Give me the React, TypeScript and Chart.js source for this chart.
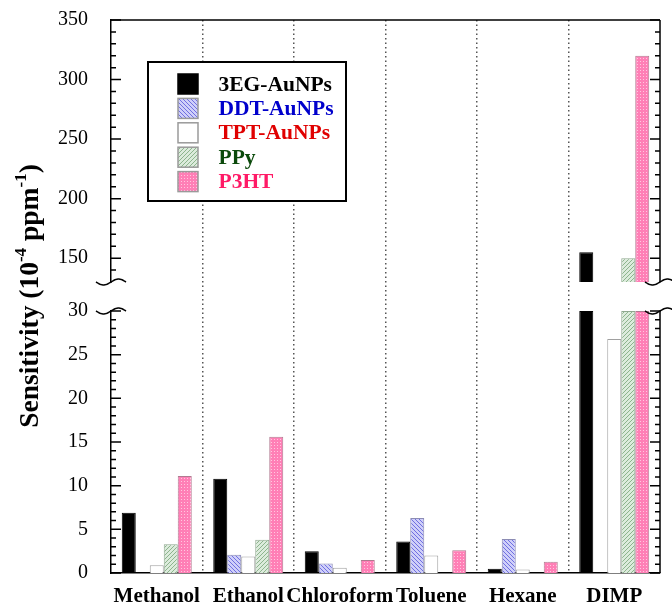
import React, { useEffect, useRef } from 'react';
import { Chart, registerables } from 'chart.js';

Chart.register(...registerables);

const categories = ['Methanol', 'Ethanol', 'Chloroform', 'Toluene', 'Hexane', 'DIMP'];
const seriesLabels = ['3EG-AuNPs', 'DDT-AuNPs', 'TPT-AuNPs', 'PPy', 'P3HT'];
const eg3Values = [6.9, 10.8, 2.5, 3.6, 0.5, 155];
const ddtValues = [null, 2.1, 1.1, 6.3, 3.9, null];
const tptValues = [0.9, 1.9, 0.6, 2.0, 0.4, 26.8];
const ppyValues = [3.3, 3.8, null, null, null, 150];
const p3htValues = [11.1, 15.6, 1.5, 2.6, 1.3, 320];

const lowerRange = [0, 30];
const upperRange = [130, 350];
const lowerTickLabels = [0, 5, 10, 15, 20, 25, 30];
const upperTickLabels = [150, 200, 250, 300, 350];
const legendTextColors = ['#000000', '#0000cc', '#e00000', '#0b4a0b', '#ff1a66'];
const barBorderColors = ['#000000', '#8c8cb4', '#a0a0a0', '#90a890', '#b07a90'];
const titleParts = [
  { text: 'Sensitivity (10', sup: false },
  { text: '-4', sup: true },
  { text: ' ppm', sup: false },
  { text: '-1', sup: true },
  { text: ')', sup: false },
];

const serif = "'Liberation Serif', 'Times New Roman', serif";

function makePattern(kind: string): CanvasPattern | string {
  const c = document.createElement('canvas');
  const size = kind === 'pink' ? 3 : 4;
  c.width = size;
  c.height = size;
  const g = c.getContext('2d')!;
  if (kind === 'blue') {
    g.fillStyle = '#cfcff9';
    g.fillRect(0, 0, size, size);
    g.fillStyle = '#7070e0';
    for (let i = 0; i < size; i++) g.fillRect(i, i, 1, 1);
  } else if (kind === 'green') {
    g.fillStyle = '#dcebdc';
    g.fillRect(0, 0, size, size);
    g.fillStyle = '#8db48d';
    for (let i = 0; i < size; i++) g.fillRect(size - 1 - i, i, 1, 1);
  } else {
    g.fillStyle = '#ff7fb6';
    g.fillRect(0, 0, size, size);
    g.fillStyle = '#ffc8e0';
    g.fillRect(1, 1, 1, 1);
  }
  const p = g.createPattern(c, 'repeat');
  return p || '#ff99cc';
}

function squiggle(ctx: CanvasRenderingContext2D, x: number, y: number) {
  ctx.beginPath();
  for (let t = -15; t <= 15; t += 1) {
    const yy = y - 3 * Math.sin((Math.PI * t) / 15);
    if (t === -15) ctx.moveTo(x + t, yy);
    else ctx.lineTo(x + t, yy);
  }
  ctx.stroke();
}

const fixLeftAxis = (s: any) => {
  s.width = 56;
  s.paddingTop = 0;
  s.paddingBottom = 0;
};

export default function App() {
  const ref = useRef<HTMLCanvasElement>(null);

  useEffect(() => {
    const canvas = ref.current;
    if (!canvas) return;
    const fills: (CanvasPattern | string)[] = [
      '#000000',
      makePattern('blue'),
      '#ffffff',
      makePattern('green'),
      makePattern('pink'),
    ];
    const series = [eg3Values, ddtValues, tptValues, ppyValues, p3htValues];
    const datasets: any[] = [];
    series.forEach((vals, i) => {
      const common = {
        label: seriesLabels[i],
        backgroundColor: fills[i],
        borderColor: barBorderColors[i],
        borderWidth: 1,
        stack: 's' + i,
        categoryPercentage: 0.765,
        barPercentage: 1,
      };
      datasets.push({
        ...common,
        yAxisID: 'yLow',
        data: vals.map((v) => (v == null ? null : Math.min(v, lowerRange[1]))),
      });
      datasets.push({
        ...common,
        yAxisID: 'yUp',
        data: vals.map((v) => (v != null && v > upperRange[0] ? v : null)),
      });
    });

    const decor = {
      id: 'decor',
      afterDraw(chart: any) {
        const { ctx, chartArea } = chart;
        const L = chartArea.left;
        const R = chartArea.right;
        const up = chart.scales.yUp;
        const low = chart.scales.yLow;
        ctx.save();
        ctx.strokeStyle = '#000';
        ctx.lineWidth = 1.5;
        ctx.beginPath();
        ctx.moveTo(L, chartArea.top);
        ctx.lineTo(R, chartArea.top);
        ctx.stroke();
        ctx.beginPath();
        ctx.moveTo(R, up.top);
        ctx.lineTo(R, up.bottom);
        ctx.moveTo(R, low.top);
        ctx.lineTo(R, low.bottom);
        ctx.stroke();
        [up, low].forEach((s: any) => {
          s.ticks.forEach((t: any) => {
            if (s === up && t.value === s.min) return;
            const y = s.getPixelForValue(t.value);
            const len = t.label !== '' ? 10 : 5;
            ctx.beginPath();
            ctx.moveTo(L, y);
            ctx.lineTo(L + len, y);
            ctx.moveTo(R, y);
            ctx.lineTo(R - len, y);
            ctx.stroke();
          });
        });
        ctx.lineWidth = 1.5;
        squiggle(ctx, L, up.bottom);
        squiggle(ctx, L, low.top);
        squiggle(ctx, R, up.bottom);
        squiggle(ctx, R, low.top);

        const bx = L + 37;
        const by = chartArea.top + 42;
        const bw = 198;
        const bh = 139;
        ctx.fillStyle = '#fff';
        ctx.fillRect(bx, by, bw, bh);
        ctx.lineWidth = 2;
        ctx.strokeStyle = '#000';
        ctx.strokeRect(bx, by, bw, bh);
        seriesLabels.forEach((lab, i) => {
          const sy = by + 12 + i * 24.4;
          const sx = bx + 30;
          ctx.fillStyle = fills[i];
          ctx.fillRect(sx, sy, 20, 20);
          ctx.lineWidth = 1.5;
          ctx.strokeStyle = i === 0 ? '#000' : '#9a9a9a';
          ctx.strokeRect(sx, sy, 20, 20);
          ctx.fillStyle = legendTextColors[i];
          ctx.font = `bold 21.5px ${serif}`;
          ctx.textAlign = 'left';
          ctx.textBaseline = 'middle';
          ctx.fillText(lab, bx + 70.5, sy + 11);
        });

        const size = 27.5;
        const supSize = 17;
        ctx.save();
        ctx.translate(38, 296);
        ctx.rotate(-Math.PI / 2);
        ctx.textBaseline = 'alphabetic';
        ctx.textAlign = 'left';
        ctx.fillStyle = '#000';
        let total = 0;
        titleParts.forEach((p) => {
          ctx.font = `bold ${p.sup ? supSize : size}px ${serif}`;
          total += ctx.measureText(p.text).width;
        });
        let x = -total / 2;
        titleParts.forEach((p) => {
          ctx.font = `bold ${p.sup ? supSize : size}px ${serif}`;
          ctx.fillText(p.text, x, p.sup ? -size * 0.42 : 0);
          x += ctx.measureText(p.text).width;
        });
        ctx.restore();
        ctx.restore();
      },
    };

    const yTickFont = { family: serif, size: 20 };

    const chart = new Chart(canvas, {
      type: 'bar',
      data: { labels: categories, datasets },
      options: {
        responsive: false,
        animation: false,
        layout: { padding: { left: 55, right: 12, top: 20, bottom: 0 } },
        plugins: { legend: { display: false }, tooltip: { enabled: false } },
        scales: {
          x: {
            type: 'category',
            offset: true,
            grid: {
              offset: true,
              drawTicks: false,
              lineWidth: 1.5,
              color: (c: any) =>
                c.index === undefined || c.index === 0 || c.index >= categories.length
                  ? 'rgba(0,0,0,0)'
                  : '#555555',
            },
            border: { display: true, color: '#000', width: 1.5, dash: [1.5, 3] },
            ticks: {
              color: '#000',
              font: { family: serif, size: 21, weight: 'bold' },
              padding: 11,
              autoSkip: false,
              maxRotation: 0,
            },
            afterFit: (s: any) => {
              s.height = 33;
              s.paddingLeft = 0;
              s.paddingRight = 0;
            },
          },
          yUp: {
            type: 'linear',
            position: 'left',
            stack: 'left',
            stackWeight: 262,
            weight: 3,
            stacked: false,
            min: upperRange[0],
            max: upperRange[1],
            grid: { display: false },
            border: { display: true, color: '#000', width: 1.5 },
            ticks: {
              stepSize: 10,
              autoSkip: false,
              padding: 15,
              color: '#000',
              font: yTickFont,
              callback: (v: any) => (upperTickLabels.includes(Number(v)) ? String(v) : ''),
            },
            afterFit: fixLeftAxis,
          },
          yGap: {
            type: 'linear',
            position: 'left',
            stack: 'left',
            stackWeight: 29,
            weight: 2,
            min: 0,
            max: 1,
            grid: { display: false },
            border: { display: false },
            ticks: { display: false },
            afterFit: fixLeftAxis,
          },
          yLow: {
            type: 'linear',
            position: 'left',
            stack: 'left',
            stackWeight: 262,
            weight: 1,
            stacked: false,
            min: lowerRange[0],
            max: lowerRange[1],
            grid: { display: false },
            border: { display: true, color: '#000', width: 1.5 },
            ticks: {
              stepSize: 1,
              autoSkip: false,
              padding: 15,
              color: '#000',
              font: yTickFont,
              callback: (v: any) => (lowerTickLabels.includes(Number(v)) ? String(v) : ''),
            },
            afterFit: fixLeftAxis,
          },
        },
      } as any,
      plugins: [decor],
    });
    return () => chart.destroy();
  }, []);

  return (
    <canvas
      ref={ref}
      width={672}
      height={606}
      style={{ position: 'absolute', left: 0, top: 0, width: 672, height: 606 }}
    />
  );
}
